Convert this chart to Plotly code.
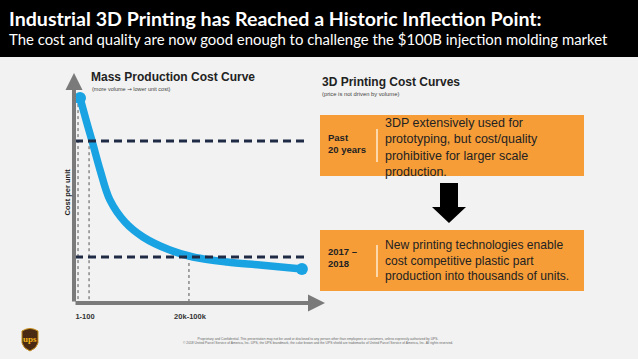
import plotly.graph_objects as go

W, H = 638, 359
def px(x): return x / W
def py(y): return 1 - y / H

# ---------------- data ----------------
curve_volume = [2.4, 4.8, 7.2, 10.4, 14.3, 20.3, 27.5, 38.2, 47.4, 61.0, 74.1, 90.8]
curve_cost = [89.1, 79.6, 70.4, 57.8, 44.8, 35.2, 28.7, 23.0, 20.0, 17.8, 16.5, 14.8]
cost_levels = [70.4, 20.0]            # Past 20 years, 2017-2018
level_span = [0.4, 92.8]
volume_marks = [1.6, 6.0, 45.8]
volume_mark_tops = [89.1, 76.0, 20.0]
tick_vals = [4.4, 46.2]
tick_text = ["1-100", "20k-100k"]

title = "Industrial 3D Printing has Reached a Historic Inflection Point:"
subtitle = "The cost and quality are now good enough to challenge the $100B injection molding market"
box_labels = ["Past<br>20 years", "2017 –<br>2018"]
box_texts = [
    "3DP extensively used for<br>prototyping, but cost/quality<br>prohibitive for larger scale<br>production.",
    "New printing technologies enable<br>cost competitive plastic part<br>production into thousands of units.",
]
footer = ("Proprietary and Confidential. This presentation may not be used or disclosed to any person other than employees or customers, unless expressly authorized by UPS.<br>"
          "© 2018 United Parcel Service of America, Inc. UPS, the UPS brandmark, the color brown and the UPS shield are trademarks of United Parcel Service of America, Inc. All rights reserved.")

BLUE = "#19a3e3"
NAVY = "#1f2a44"
ORANGE = "#f79d38"
GRAY = "#7a7a7a"

fig = go.Figure()

# dotted vertical guides
for v, t in zip(volume_marks, volume_mark_tops):
    fig.add_trace(go.Scatter(x=[v, v], y=[t, 0], mode="lines",
                             line=dict(color="#555555", width=1, dash="dot"),
                             hoverinfo="skip", showlegend=False))

# cost curve
fig.add_trace(go.Scatter(x=curve_volume, y=curve_cost, mode="lines",
                         line=dict(color=BLUE, width=7.5, shape="spline", smoothing=1.0),
                         showlegend=False, cliponaxis=False))
fig.add_trace(go.Scatter(x=[curve_volume[0], curve_volume[-1]], y=[curve_cost[0], curve_cost[-1]],
                         mode="markers", marker=dict(color=BLUE, size=12),
                         showlegend=False, cliponaxis=False))

# dashed cost levels
for lvl in cost_levels:
    fig.add_trace(go.Scatter(x=level_span, y=[lvl, lvl], mode="lines",
                             line=dict(color=NAVY, width=3, dash="8px,5px"),
                             showlegend=False, cliponaxis=False))

shapes = []
# header band
shapes.append(dict(type="rect", xref="paper", yref="paper", x0=0, x1=1, y0=py(57), y1=1,
                   fillcolor="black", line_width=0, layer="below"))
# orange boxes
for (y0, y1) in [(115, 176), (230, 291)]:
    shapes.append(dict(type="rect", xref="paper", yref="paper", x0=px(320), x1=px(584),
                       y0=py(y1), y1=py(y0), fillcolor=ORANGE, line_width=0, layer="below"))
for (y0, y1) in [(129, 162), (245, 277)]:
    shapes.append(dict(type="line", xref="paper", yref="paper", x0=px(377), x1=px(377),
                       y0=py(y1), y1=py(y0), line=dict(color="rgba(255,245,225,0.9)", width=1.5)))
# down arrow
pts = [(440, 183), (458, 183), (458, 207), (466, 207), (449, 223), (432, 207), (440, 207)]
path = "M " + " L ".join(f"{px(x):.5f},{py(y):.5f}" for x, y in pts) + " Z"
shapes.append(dict(type="path", xref="paper", yref="paper", path=path, fillcolor="black", line_width=0))
# UPS shield
sp = (f"M {px(22):.5f},{py(331):.5f} Q {px(30):.5f},{py(326):.5f} {px(38):.5f},{py(331):.5f} "
      f"L {px(38):.5f},{py(343):.5f} Q {px(37):.5f},{py(348):.5f} {px(30):.5f},{py(351):.5f} "
      f"Q {px(23):.5f},{py(348):.5f} {px(22):.5f},{py(343):.5f} Z")
shapes.append(dict(type="path", xref="paper", yref="paper", path=sp, fillcolor="#4a2a12",
                   line=dict(color="#c8901c", width=1)))

ann = []
ann.append(dict(xref="paper", yref="paper", x=px(7), y=py(19), xanchor="left", yanchor="middle",
                text=title, showarrow=False, font=dict(family="Lato", size=19.6, color="white", weight="bold")))
ann.append(dict(xref="paper", yref="paper", x=px(7), y=py(39), xanchor="left", yanchor="middle",
                text=subtitle, showarrow=False, font=dict(family="Lato", size=14.9, color="white")))
# axis arrows
ann.append(dict(x=0, y=100, ax=0, ay=0, xref="x", yref="y", axref="x", ayref="y", text="",
                showarrow=True, arrowhead=2, arrowsize=0.85, arrowwidth=4, arrowcolor=GRAY))
ann.append(dict(x=100, y=0, ax=0, ay=0, xref="x", yref="y", axref="x", ayref="y", text="",
                showarrow=True, arrowhead=2, arrowsize=0.85, arrowwidth=4, arrowcolor=GRAY))
ann.append(dict(xref="paper", yref="paper", x=px(60), y=py(192), text="<b>Cost per unit</b>",
                textangle=-90, showarrow=False, font=dict(family="Liberation Sans", size=7.5, color="#222")))
# section titles
ann.append(dict(xref="paper", yref="paper", x=px(89), y=py(77), xanchor="left", yanchor="middle",
                text="<b>Mass Production Cost Curve</b>", showarrow=False,
                font=dict(family="Liberation Sans", size=12, color="#222")))
ann.append(dict(xref="paper", yref="paper", x=px(90), y=py(89), xanchor="left", yanchor="middle",
                text="(more volume <span style='font-family:DejaVu Sans'>\u2192</span> lower unit cost)",
                showarrow=False, font=dict(family="Liberation Sans", size=5.5, color="#444")))
ann.append(dict(xref="paper", yref="paper", x=px(320), y=py(82), xanchor="left", yanchor="middle",
                text="<b>3D Printing Cost Curves</b>", showarrow=False,
                font=dict(family="Liberation Sans", size=12, color="#222")))
ann.append(dict(xref="paper", yref="paper", x=px(320), y=py(94), xanchor="left", yanchor="middle",
                text="(price is not driven by volume)", showarrow=False,
                font=dict(family="Liberation Sans", size=5.8, color="#444")))
# box contents
for lab, txt, yc_lab, yc_txt, fs in zip(box_labels, box_texts, [143, 257.5], [147, 260], [12.5, 12.1]):
    ann.append(dict(xref="paper", yref="paper", x=px(326), y=py(yc_lab), xanchor="left", yanchor="middle",
                    text=f"<b>{lab}</b>", align="left", showarrow=False,
                    font=dict(family="Liberation Sans", size=9.5, color="#222")))
    ann.append(dict(xref="paper", yref="paper", x=px(383), y=py(yc_txt), xanchor="left", yanchor="middle",
                    text=txt, align="left", showarrow=False,
                    font=dict(family="Liberation Sans", size=fs, color="#222")))
# footer
ann.append(dict(xref="paper", yref="paper", x=px(318), y=py(341), xanchor="center", yanchor="middle",
                text=footer, align="center", showarrow=False,
                font=dict(family="Liberation Sans", size=3.3, color="#666")))
ann.append(dict(xref="paper", yref="paper", x=px(30), y=py(339), xanchor="center", yanchor="middle",
                text="<b>ups</b>", showarrow=False,
                font=dict(family="Liberation Sans Narrow", size=9, color="#f4b41a")))

fig.update_layout(
    width=W, height=H, margin=dict(l=0, r=0, t=0, b=0),
    paper_bgcolor="#f2f2f2", plot_bgcolor="rgba(0,0,0,0)",
    shapes=shapes, annotations=ann, showlegend=False,
    xaxis=dict(domain=[px(74), px(325)], range=[0, 100], showgrid=False, zeroline=False,
               showline=False, ticks="", tickvals=tick_vals, ticklabelstandoff=7,
               ticktext=[f"<b>{t}</b>" for t in tick_text],
               tickfont=dict(family="Liberation Sans", size=7.5, color="#333"), fixedrange=True),
    yaxis=dict(domain=[py(303), py(73)], range=[0, 100], showgrid=False, zeroline=False,
               showline=False, showticklabels=False, ticks="", fixedrange=True),
)

fig.write_html("out.html", config={"displayModeBar": False},
               post_script="document.body.style.margin='0';document.body.style.overflow='hidden';")
